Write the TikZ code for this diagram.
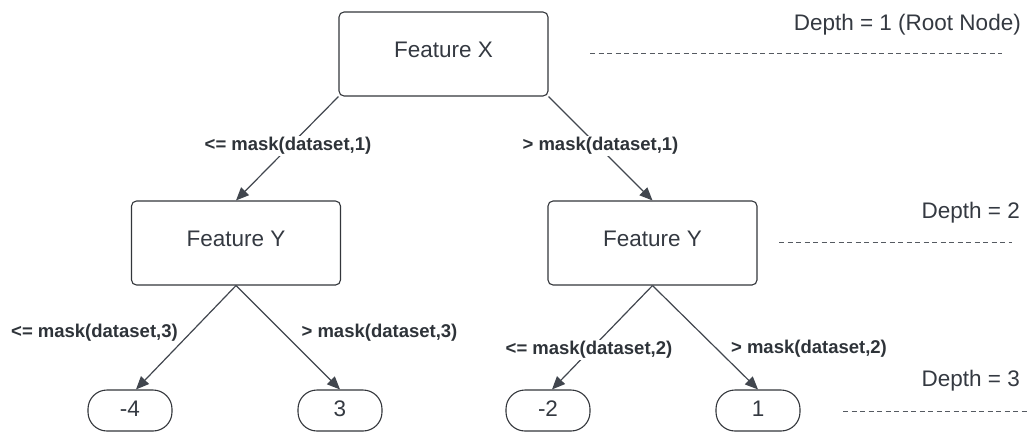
\documentclass[tikz,border=0pt]{standalone}
\usepackage{fontspec}
\setmainfont{Liberation Sans}
\usetikzlibrary{arrows.meta,calc}

\definecolor{ink}{HTML}{343941}
\definecolor{condink}{HTML}{2E3339}
\definecolor{edge}{HTML}{41464E}
\definecolor{frame}{HTML}{33363B}
\definecolor{guidegray}{HTML}{555A61}

\tikzset{
  featbox/.style={draw=frame, line width=1.1pt, rounded corners=5pt,
    minimum width=209pt, minimum height=84pt, inner sep=0pt,
    text height=16pt, text depth=9pt, text=ink,
    font=\fontsize{22.5}{27}\selectfont},
  leafbox/.style={draw=frame, line width=1.1pt, rounded corners=19pt,
    minimum width=84pt, minimum height=41pt, inner sep=0pt,
    text height=16pt, text depth=5pt, text=ink,
    font=\fontsize{22.5}{27}\selectfont},
  cond/.style={fill=white, inner sep=1.5pt, text=condink,
    font=\bfseries\fontsize{18.5}{22}\selectfont},
  branch/.style={draw=edge, line width=1.2pt,
    -{Triangle[length=13pt,width=11pt]}},
  depthlbl/.style={anchor=base east, inner sep=0pt, text=ink,
    font=\fontsize{22.5}{27}\selectfont},
  guide/.style={draw=guidegray, line width=0.9pt,
    dash pattern=on 5pt off 3.5pt},
}

\begin{document}
\begin{tikzpicture}[x=1pt, y=-1pt]
  \useasboundingbox (0,0) rectangle (1028,432);

  % decision nodes
  \node[featbox] (root) at (443.5,54) {Feature X};
  \node[featbox] (lc) at (236,243) {Feature Y};
  \node[featbox] (rc) at (652.5,243) {Feature Y};

  % leaf values
  \node[leafbox] (la) at (130,410.5) {-4};
  \node[leafbox] (lb) at (340,410.5) {3};
  \node[leafbox] (ra) at (548,410.5) {-2};
  \node[leafbox] (rb) at (758,410.5) {1};

  % branches
  \draw[branch] (root.south west) -- (lc.north);
  \draw[branch] (root.south east) -- (rc.north);
  \draw[branch] (lc.south) -- ($(la.north)+(6,0)$);
  \draw[branch] (lc.south) -- (lb.north);
  \draw[branch] (rc.south) -- ($(ra.north)+(4,0)$);
  \draw[branch] (rc.south) -- (rb.north);

  % split conditions
  \node[cond] (c1) at (288,146) {<= mask(dataset,1)};
  \node[cond] (c2) at (600.5,146) {> mask(dataset,1)};
  \node[cond] (c3) at (94.5,333) {<= mask(dataset,3)};
  \node[cond] (c4) at (379.5,333) {> mask(dataset,3)};
  \node[cond] (c5) at (589,350) {<= mask(dataset,2)};
  \node[cond] (c6) at (809,349) {> mask(dataset,2)};

  % depth markers
  \node[depthlbl] (d1) at (1021,30) {Depth = 1 (Root Node)};
  \node[depthlbl] (d2) at (1020,218) {Depth = 2};
  \node[depthlbl] (d3) at (1020,386) {Depth = 3};

  \coordinate (g1a) at (590,53);  \coordinate (g1b) at (1002,53);
  \coordinate (g2a) at (779,242); \coordinate (g2b) at (1012,242);
  \coordinate (g3a) at (843,411); \coordinate (g3b) at (1028,411);
  \draw[guide] (g1a) -- (g1b);
  \draw[guide] (g2a) -- (g2b);
  \draw[guide] (g3a) -- (g3b);
\end{tikzpicture}
\end{document}
